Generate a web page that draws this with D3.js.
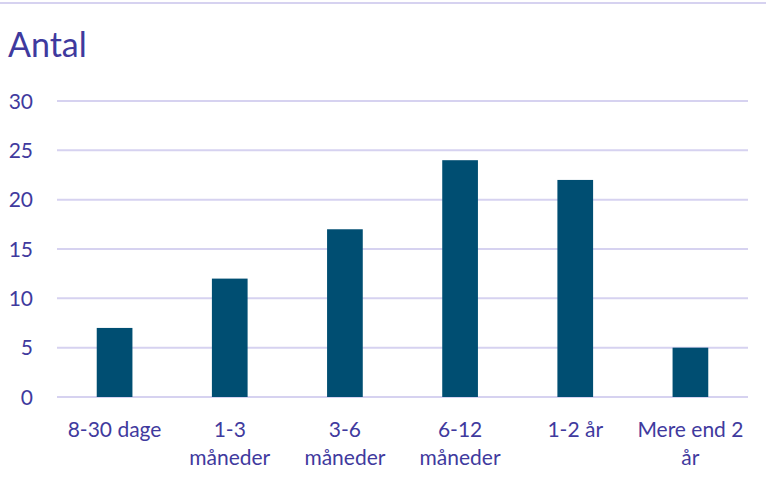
<!DOCTYPE html>
<html>
<head>
<meta charset="utf-8">
<script src="https://cdn.jsdelivr.net/npm/d3@7"></script>
<style>
  body { margin: 0; background: #fff; }
  text { font-family: Lato, "Open Sans", sans-serif; fill: #3f3a9e; }
</style>
</head>
<body>
<div id="chart"></div>
<script>
// data
var categories = ["8-30 dage", "1-3 måneder", "3-6 måneder", "6-12 måneder", "1-2 år", "Mere end 2 år"];
var values = [7, 12, 17, 24, 22, 5];
var yTicks = [0, 5, 10, 15, 20, 25, 30];
var title = "Antal";

var width = 766, height = 483;
var margin = {left: 57, right: 18, top: 101, bottom: 86};

var svg = d3.select("#chart").append("svg")
  .attr("width", width)
  .attr("height", height);

// thin rule across the top
svg.append("line")
  .attr("x1", 0).attr("x2", width)
  .attr("y1", 3).attr("y2", 3)
  .attr("stroke", "#d6d2f0")
  .attr("stroke-width", 2);

svg.append("text")
  .attr("x", 8)
  .attr("y", 57)
  .style("font-size", "34px")
  .text(title);

var x = d3.scaleBand()
  .domain(categories)
  .range([margin.left, width - margin.right])
  .paddingInner(0.69)
  .paddingOuter(0.345);

var y = d3.scaleLinear()
  .domain([0, 30])
  .range([height - margin.bottom, margin.top]);

// gridlines
svg.append("g")
  .selectAll("line")
  .data(yTicks).enter()
  .append("line")
  .attr("x1", margin.left)
  .attr("x2", width - margin.right)
  .attr("y1", function(d) { return y(d); })
  .attr("y2", function(d) { return y(d); })
  .attr("stroke", "#d6d2f0")
  .attr("stroke-width", 2);

// y labels
svg.append("g")
  .selectAll("text")
  .data(yTicks).enter()
  .append("text")
  .attr("x", 33)
  .attr("y", function(d) { return y(d); })
  .attr("dy", "0.36em")
  .attr("text-anchor", "end")
  .style("font-size", "21px")
  .text(function(d) { return d; });

// bars
svg.append("g")
  .selectAll("rect")
  .data(values).enter()
  .append("rect")
  .attr("x", function(d, i) { return x(categories[i]); })
  .attr("y", function(d) { return y(d); })
  .attr("width", x.bandwidth())
  .attr("height", function(d) { return y(0) - y(d); })
  .attr("fill", "#004e72");

// x labels, wrapped to the band
var maxW = 118;
svg.append("g")
  .selectAll("text")
  .data(categories).enter()
  .append("text")
  .attr("x", function(d) { return x(d) + x.bandwidth() / 2; })
  .attr("y", 437)
  .attr("text-anchor", "middle")
  .style("font-size", "21px")
  .each(function(d) {
    var el = d3.select(this);
    var words = d.split(" "), line = [];
    var tspan = el.append("tspan").attr("x", el.attr("x")).attr("dy", 0);
    words.forEach(function(w) {
      line.push(w);
      tspan.text(line.join(" "));
      if (tspan.node().getComputedTextLength() > maxW && line.length > 1) {
        line.pop();
        tspan.text(line.join(" "));
        line = [w];
        tspan = el.append("tspan").attr("x", el.attr("x")).attr("dy", 28).text(w);
      }
    });
  });
</script>
</body>
</html>
